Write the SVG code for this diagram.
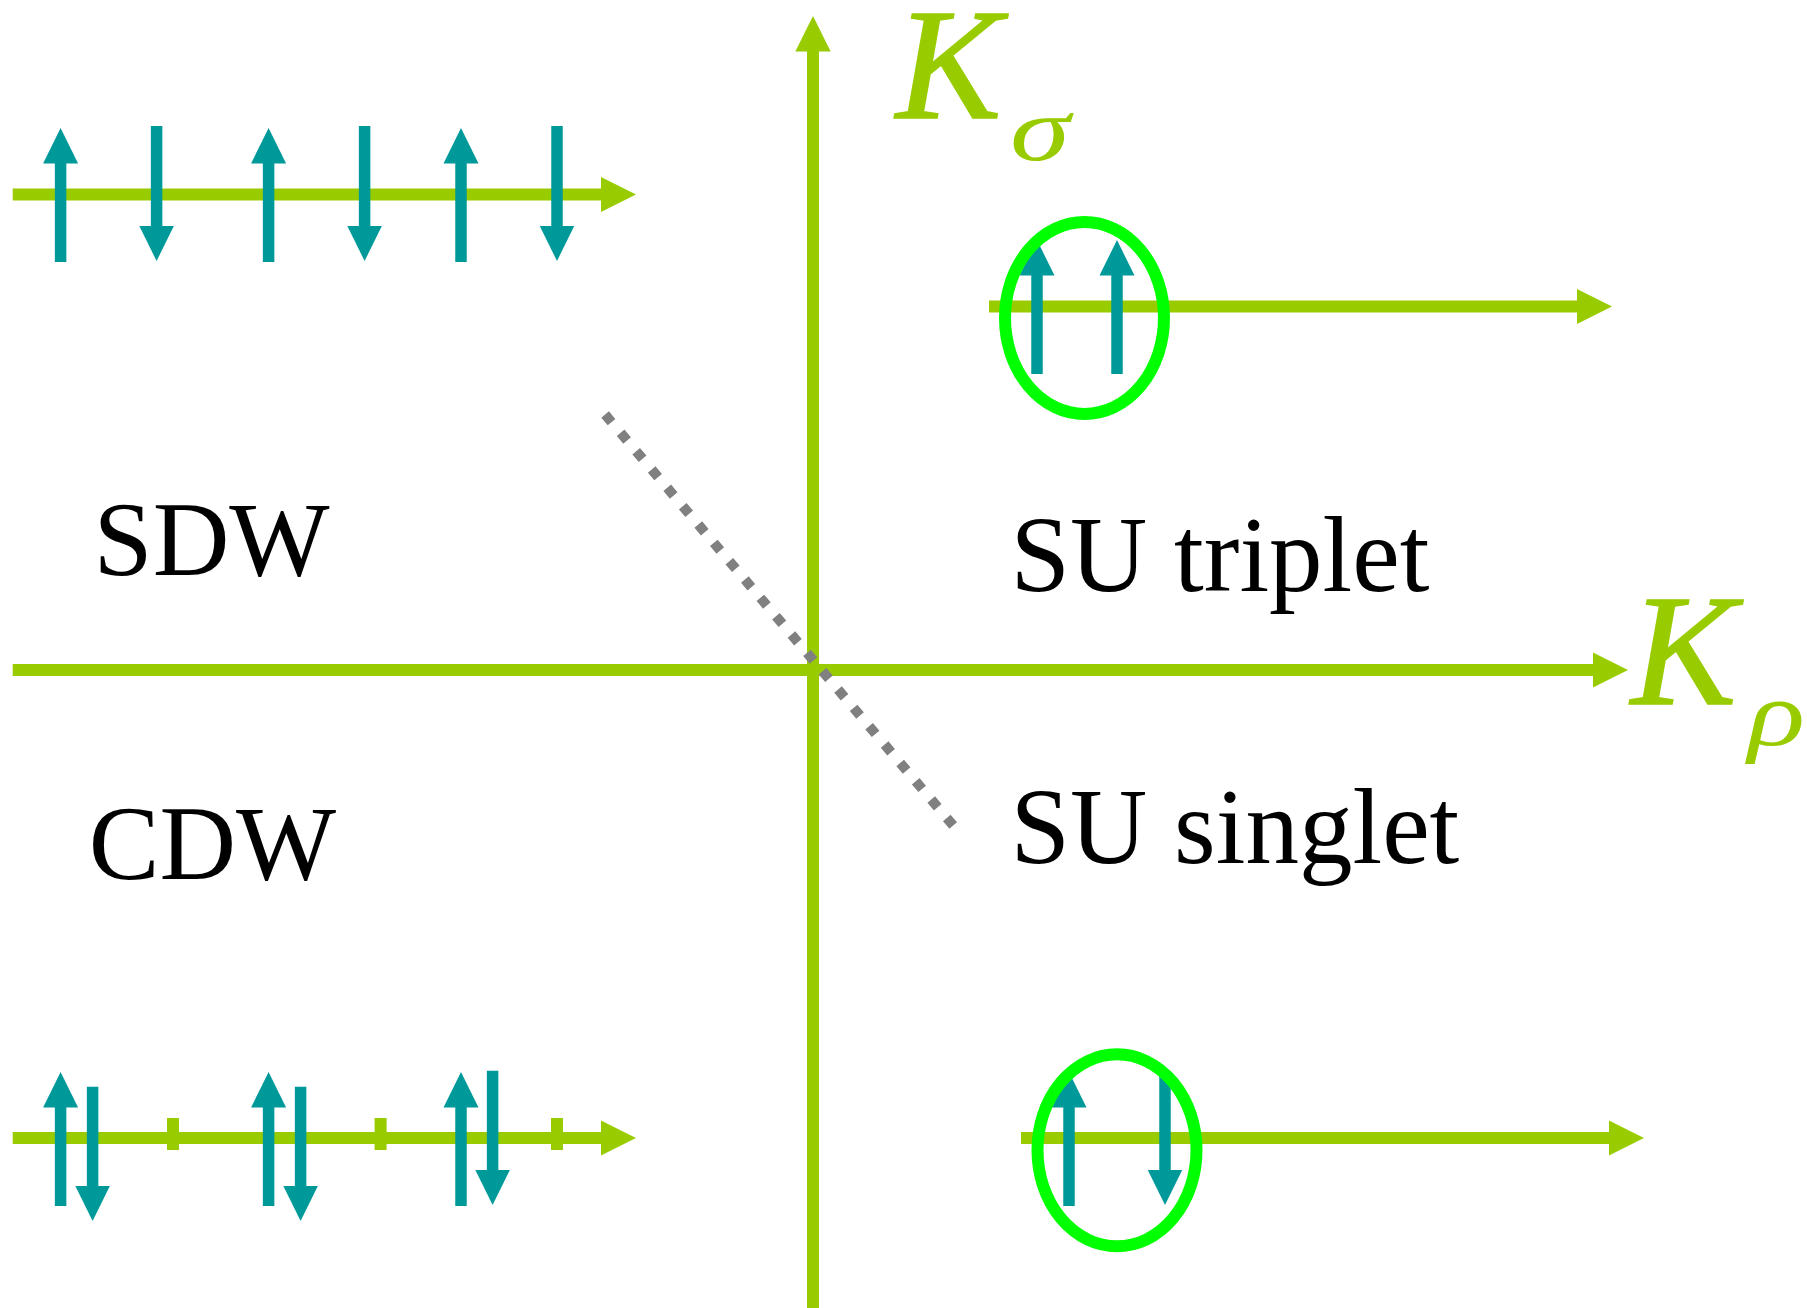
<svg xmlns="http://www.w3.org/2000/svg" width="1807" height="1308" viewBox="0 0 1807 1308">
  <style>
    .axis { stroke: #99CC00; stroke-width: 12; fill: none; }
    .tick { stroke: #99CC00; stroke-width: 12; fill: none; }
    .spin { stroke: #009999; stroke-width: 11.5; fill: none; }
    .pair { stroke: #00FF00; stroke-width: 12; fill: none; }
    .boundary { stroke: #808080; stroke-width: 10; stroke-dasharray: 10 14.03; fill: none; }
    .phase { font-family: "Liberation Serif", "Times New Roman", serif; fill: #000000; }
    .axlabel { font-family: "Liberation Serif", "Times New Roman", serif; font-style: italic; fill: #99CC00; }
    .bigK { stroke: #99CC00; stroke-width: 1.5; }
  </style>
  <defs>
    <marker id="gHead" markerUnits="userSpaceOnUse" viewBox="0 -18 36 36" markerWidth="36" markerHeight="36" refX="1" refY="0" orient="auto">
      <path d="M0,-17.7 L35.5,0 L0,17.7 Z" fill="#99CC00"/>
    </marker>
    <marker id="tHead" markerUnits="userSpaceOnUse" viewBox="0 -18 36 36" markerWidth="36" markerHeight="36" refX="1" refY="0" orient="auto">
      <path d="M0,-17.5 L35.5,0 L0,17.5 Z" fill="#009999"/>
    </marker>
  </defs>
  <rect x="0" y="0" width="1807" height="1308" fill="#FFFFFF"/>

  <g id="connectors">
    <path id="axis-ksigma" class="axis" d="M813,1308 V50.5" marker-end="url(#gHead)"/>
    <path id="axis-krho" class="axis" d="M12.7,670 H1593.5" marker-end="url(#gHead)"/>
    <path id="boundary" class="boundary" d="M605.1,414.5 L953.2,825.5"/>
  </g>

  <g id="chain-sdw">
    <path class="axis" d="M12.7,194.5 H601.5" marker-end="url(#gHead)"/>
    <path class="spin" d="M60.6,262 V162.5" marker-end="url(#tHead)"/>
    <path class="spin" d="M156.6,126 V226.5" marker-end="url(#tHead)"/>
    <path class="spin" d="M268.6,262 V162.5" marker-end="url(#tHead)"/>
    <path class="spin" d="M364.6,126 V226.5" marker-end="url(#tHead)"/>
    <path class="spin" d="M461,262 V162.5" marker-end="url(#tHead)"/>
    <path class="spin" d="M557,126 V226.5" marker-end="url(#tHead)"/>
  </g>

  <g id="chain-cdw">
    <path class="axis" d="M12.7,1138 H601.5" marker-end="url(#gHead)"/>
    <path class="tick" d="M173,1118 V1150"/>
    <path class="tick" d="M380.6,1118 V1150"/>
    <path class="tick" d="M557,1118 V1150"/>
    <path class="spin" d="M60.6,1206 V1106.5" marker-end="url(#tHead)"/>
    <path class="spin" d="M92.6,1086.7 V1186.5" marker-end="url(#tHead)"/>
    <path class="spin" d="M268.6,1206 V1106.5" marker-end="url(#tHead)"/>
    <path class="spin" d="M300.6,1086.7 V1186.5" marker-end="url(#tHead)"/>
    <path class="spin" d="M461,1206 V1106.5" marker-end="url(#tHead)"/>
    <path class="spin" d="M492.6,1070.7 V1170.5" marker-end="url(#tHead)"/>
  </g>

  <g id="chain-triplet">
    <path class="axis" d="M989,306.5 H1577.5" marker-end="url(#gHead)"/>
    <path class="spin" d="M1037,374 V274.5" marker-end="url(#tHead)"/>
    <path class="spin" d="M1117,374 V274.5" marker-end="url(#tHead)"/>
    <ellipse class="pair" cx="1084.5" cy="318" rx="79.5" ry="96"/>
  </g>

  <g id="chain-singlet">
    <path class="axis" d="M1021,1138 H1609.5" marker-end="url(#gHead)"/>
    <path class="spin" d="M1069,1206 V1106.5" marker-end="url(#tHead)"/>
    <path class="spin" d="M1165,1071 V1170.5" marker-end="url(#tHead)"/>
    <ellipse class="pair" cx="1117" cy="1150.3" rx="79.5" ry="96"/>
  </g>

  <g id="label-ksigma">
    <text class="axlabel bigK" x="896" y="118" font-size="158">K</text>
    <text class="axlabel" transform="translate(1010,160) scale(1.35,1)" x="0" y="0" font-size="90">σ</text>
  </g>
  <g id="label-krho">
    <text class="axlabel bigK" x="1631" y="704" font-size="158">K</text>
    <text class="axlabel" transform="translate(1748,745) scale(1.29,1)" x="0" y="0" font-size="92">ρ</text>
  </g>
  <g id="node-sdw">
    <text class="phase" x="93.6" y="575" font-size="105" textLength="236" lengthAdjust="spacingAndGlyphs">SDW</text>
  </g>
  <g id="node-cdw">
    <text class="phase" x="88.7" y="879" font-size="106">CDW</text>
  </g>
  <g id="node-su-triplet">
    <text class="phase" x="1010.5" y="591" font-size="107">SU triplet</text>
  </g>
  <g id="node-su-singlet">
    <text class="phase" x="1010.5" y="863" font-size="107">SU singlet</text>
  </g>
</svg>
